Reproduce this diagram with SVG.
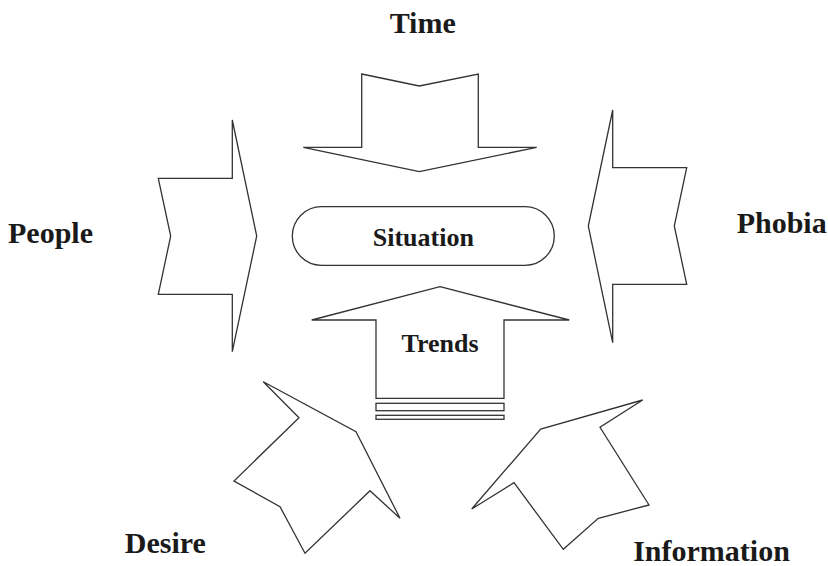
<svg xmlns="http://www.w3.org/2000/svg" width="828" height="566" viewBox="0 0 828 566">
<style>
.shape{fill:#fff;stroke:#333;stroke-width:1.3;stroke-linejoin:miter}
.lbl{font-family:"Liberation Serif","Times New Roman",serif;font-weight:bold;font-size:30px;fill:#1a1a1a;text-anchor:middle}
.in{font-family:"Liberation Serif","Times New Roman",serif;font-weight:bold;font-size:26px;fill:#1a1a1a;text-anchor:middle}
</style>
<rect width="828" height="566" fill="#fff"/>
<g id="time">
<polygon class="shape" points="361.7,74 419.3,86 478.3,74 478.3,147.3 536.7,147.3 419.3,171.7 303.3,147.3 361.7,147.3"/>
<text class="lbl" x="422.7" y="33.3">Time</text>
</g>
<g id="people">
<polygon class="shape" points="158.3,178.3 232.3,178.3 232.3,120 256.7,236 232.3,351.7 232.3,294.3 158.3,294.3 170.7,236"/>
<text class="lbl" x="50.5" y="243.3">People</text>
</g>
<g id="phobia">
<polygon class="shape" points="612.7,110 612.7,167.7 686.7,167.7 674.3,226 686.7,284.3 612.7,284.3 612.7,342.7 588.3,226"/>
<text class="lbl" x="781.7" y="233.3">Phobia</text>
</g>
<g id="situation">
<rect class="shape" x="292.3" y="206.7" width="262" height="58.6" rx="29.3" ry="29.3"/>
<text class="in" x="423.3" y="246">Situation</text>
</g>
<g id="trends">
<polygon class="shape" points="440,286.7 569.3,320 504,320 504,398.3 376,398.3 376,320 311.7,320"/>
<rect class="shape" x="376" y="403.3" width="128" height="7.4"/>
<rect class="shape" x="376" y="415.3" width="128" height="4"/>
<text class="in" x="440" y="351.7">Trends</text>
</g>
<g id="desire">
<polygon class="shape" points="263.3,381.7 356,431.7 400,518.3 370,490.7 305,553.3 280,506.7 234,481 299,417.7"/>
<text class="lbl" x="165.3" y="553.3">Desire</text>
</g>
<g id="information">
<polygon class="shape" points="642.7,400 600,427.3 649,505 598.3,518.3 563.3,549.3 514,482.7 471.7,509 540.7,429"/>
<text class="lbl" x="711.5" y="561">Information</text>
</g>
<g id="connectors"></g>
</svg>
